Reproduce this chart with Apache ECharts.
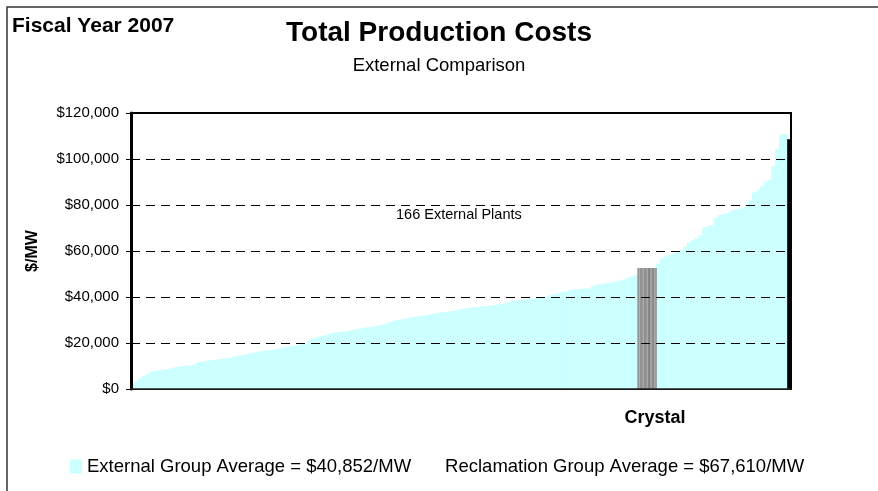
<!DOCTYPE html>
<html>
<head>
<meta charset="utf-8">
<script src="https://cdn.jsdelivr.net/npm/echarts@6/dist/echarts.min.js"></script>
<style>
  html, body { margin: 0; padding: 0; background: #fff; }
  #chart { width: 878px; height: 491px; }
</style>
</head>
<body>
<div id="chart"></div>
<script>
// cost per MW of each external plant, sorted low to high
const plantCosts = [
  2700, 3400, 4600, 5600, 6500, 7600, 8000, 8200, 8400, 8600,
  9000, 9400, 9700, 9900, 10100, 10300, 10500, 11600, 11800, 12100,
  12400, 12600, 12800, 13000, 13200, 13400, 13800, 14200, 14600, 14900,
  15300, 15600, 16000, 16300, 16600, 16800, 17000, 17200, 17500, 17800,
  18200, 18500, 18800, 19100, 19400, 19700, 21200, 22000, 22500, 22900,
  23300, 23800, 24300, 24600, 24800, 25000, 25200, 25500, 25900, 26200,
  26600, 26800, 27000, 27200, 27500, 27900, 28500, 29100, 29600, 30000,
  30300, 30600, 31000, 31200, 31400, 31700, 31900, 32200, 32500, 32900,
  33200, 33400, 33600, 33800, 34000, 34400, 34800, 35100, 35300, 35500,
  35700, 35900, 36000, 36200, 36400, 36700, 37000, 37200, 37700, 38200,
  38500, 38700, 38900, 39100, 39200, 39400, 39600, 39900, 40300, 40800,
  41200, 41600, 42100, 42500, 42900, 43300, 43400, 43600, 43700, 43800,
  44800, 45400, 45600, 45800, 46000, 46300, 46700, 47100, 47600, 48300,
  48900, 49400,
  54500, 56800, 57800, 58300, 58900, 59600, 60600, 62000, 63700, 64800,
  65500, 67000, 70200, 70800, 71300, 74500, 75600, 76000, 76500, 77500,
  78000, 78400, 78600, 79800, 82000, 85400, 86200, 88000, 90200, 91000,
  97000, 104500, 110500, 110900
];

// Crystal plant, shown among the external plants after this many of them
const crystalCost = 52600;
const crystalRank = 132;
const crystalSlots = 5;

// the dark bar at the right end
const reclamationBar = 108600;

const yTicks = [0, 20000, 40000, 60000, 80000, 100000, 120000];

const externalAvg = 'External Group Average = $40,852/MW';
const reclamationAvg = 'Reclamation Group Average = $67,610/MW';

// build the category slots: plants, Crystal, plants, dark bar
const categories = [];
const plantData = [];
const crystalData = [];
const darkData = [];
plantCosts.forEach(function (v, i) {
  if (i === crystalRank) {
    for (let s = 0; s < crystalSlots; s++) {
      categories.push(s === Math.floor(crystalSlots / 2) ? 'Crystal' : '');
      plantData.push('-');
      crystalData.push(crystalCost);
      darkData.push('-');
    }
  }
  categories.push('');
  plantData.push(v);
  crystalData.push('-');
  darkData.push('-');
});
categories.push('');
plantData.push('-');
crystalData.push('-');
darkData.push(reclamationBar);

const FONT = 'Arial, "Liberation Sans", sans-serif';

const chart = echarts.init(document.getElementById('chart'), null, { renderer: 'canvas' });

chart.setOption({
  animation: false,
  backgroundColor: '#ffffff',
  textStyle: { fontFamily: FONT, color: '#000' },
  title: [
    {
      text: 'Total Production Costs', left: 'center', top: 19, padding: 0,
      textStyle: { fontFamily: FONT, fontSize: 28, fontWeight: 'bold', color: '#000' }
    },
    {
      text: 'External Comparison', left: 'center', top: 56, padding: 0,
      textStyle: { fontFamily: FONT, fontSize: 18.5, fontWeight: 'normal', color: '#000' }
    },
    {
      text: 'Fiscal Year 2007', left: 12, top: 16, padding: 0,
      textStyle: { fontFamily: FONT, fontSize: 21, fontWeight: 'bold', color: '#000' }
    }
  ],
  legend: {
    left: 70,
    top: 457,
    padding: 0,
    itemWidth: 12,
    itemHeight: 14,
    itemGap: 17,
    selectedMode: false,
    icon: 'rect',
    textStyle: { fontFamily: FONT, fontSize: 18.5, color: '#000' },
    data: [
      { name: externalAvg },
      { name: reclamationAvg, itemStyle: { color: 'rgba(0,0,0,0)' } }
    ]
  },
  grid: {
    left: 131, right: 87, top: 113, bottom: 102,
    show: true, borderColor: '#000', borderWidth: 2
  },
  xAxis: [
    {
      type: 'category',
      data: categories,
      z: 10,
      axisLine: { lineStyle: { color: '#222', width: 1.5 } },
      axisTick: { show: false },
      axisLabel: {
        interval: 0,
        margin: 20,
        padding: [0, 0, 0, 16],
        fontFamily: FONT, fontSize: 18, fontWeight: 'bold', color: '#000'
      },
      splitLine: { show: false }
    },
    {
      // same slots, only so the plant bars can be laid out a touch wider (no seams)
      type: 'category',
      data: categories,
      show: false,
      position: 'bottom'
    }
  ],
  yAxis: {
    type: 'value',
    min: yTicks[0],
    max: yTicks[yTicks.length - 1],
    interval: 20000,
    z: 10,
    name: '$/MW',
    nameLocation: 'middle',
    nameGap: 90,
    nameTextStyle: { fontFamily: FONT, fontSize: 16, fontWeight: 'bold', color: '#000' },
    axisLine: { show: true, lineStyle: { color: '#000', width: 3 } },
    axisTick: { show: true, length: 5, lineStyle: { color: '#000', width: 1 } },
    axisLabel: {
      margin: 12,
      fontFamily: FONT, fontSize: 15, color: '#000',
      formatter: function (v) { return '$' + v.toLocaleString('en-US'); }
    },
    splitLine: { show: true, lineStyle: { color: '#000', width: 1, type: [9, 6] } }
  },
  graphic: [
    {
      type: 'rect', silent: true, z: -1,
      shape: { x: 7, y: 7, width: 900, height: 600 },
      style: { fill: 'none', stroke: '#333', lineWidth: 1.5 }
    },
    {
      type: 'text', left: 396, top: 207, silent: true,
      style: { text: '166 External Plants', fill: '#000', font: '14.5px ' + FONT }
    }
  ],
  series: [
    {
      name: externalAvg,
      type: 'bar',
      xAxisIndex: 1,
      data: plantData,
      barWidth: '130%',
      itemStyle: { color: '#CCFFFF' }
    },
    {
      name: 'Crystal',
      type: 'bar',
      data: crystalData,
      barCategoryGap: '0%',
      barGap: '-100%',
      itemStyle: {
        color: new echarts.graphic.LinearGradient(0, 0, 1, 0, [
          { offset: 0, color: '#707070' },
          { offset: 0.5, color: '#b2b2b2' },
          { offset: 1, color: '#7a7a7a' }
        ])
      }
    },
    {
      name: reclamationAvg,
      type: 'bar',
      data: darkData,
      barCategoryGap: '0%',
      barGap: '-100%',
      itemStyle: { color: '#000000' }
    }
  ]
});
</script>
</body>
</html>
